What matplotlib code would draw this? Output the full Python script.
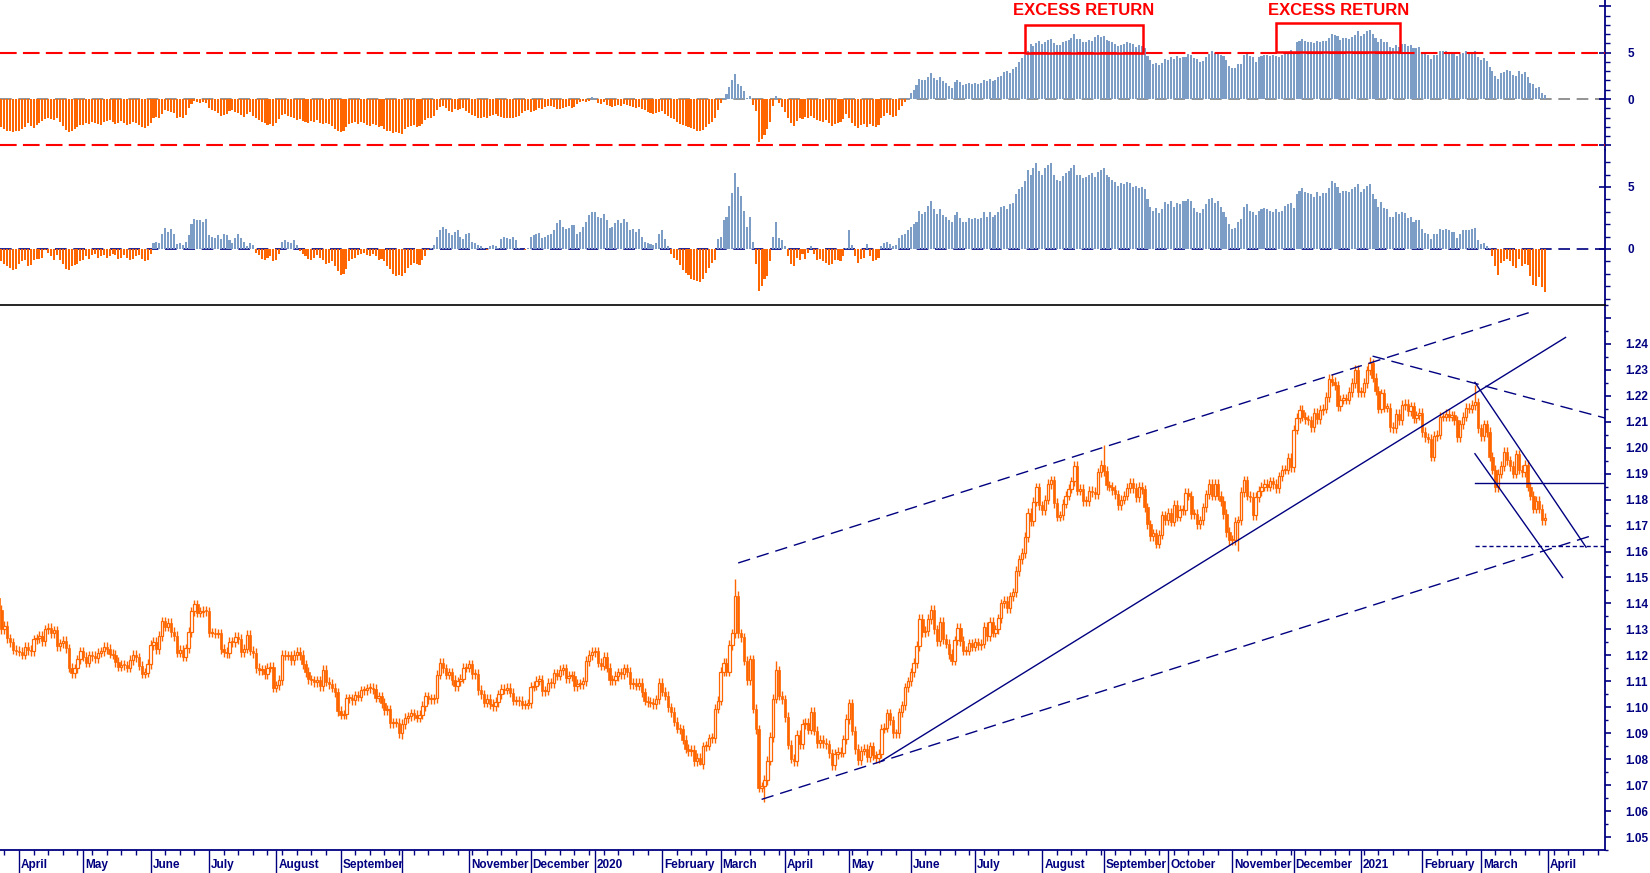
import matplotlib
matplotlib.use("Agg")
import matplotlib.pyplot as plt
import numpy as np
import pandas as pd
from matplotlib.patches import Rectangle

plt.rcParams["font.family"] = ["Liberation Sans", "DejaVu Sans"]
plt.rcParams["font.weight"] = "bold"

first_day = "2019-03-21"
last_day = "2021-03-31"
axis_end = "2021-04-30"

# EUR/USD daily closes, one inner list per month
open_first = 1.1420
close_2019 = [
    [1.1375, 1.1302, 1.1315, 1.1265, 1.1250, 1.1222, 1.1218],
    [1.1214, 1.1203, 1.1232, 1.1221, 1.1216, 1.1262, 1.1265, 1.1276, 1.1255, 1.1300, 1.1305,
     1.1285, 1.1296, 1.1235, 1.1246, 1.1257, 1.1227, 1.1152, 1.1131, 1.1150, 1.1185, 1.1215],
    [1.1195, 1.1172, 1.1200, 1.1198, 1.1190, 1.1210, 1.1216, 1.1233, 1.1225, 1.1207, 1.1203, 1.1174,
     1.1157, 1.1163, 1.1162, 1.1153, 1.1182, 1.1203, 1.1193, 1.1160, 1.1130, 1.1133, 1.1167],
    [1.1240, 1.1253, 1.1224, 1.1275, 1.1331, 1.1310, 1.1325, 1.1290, 1.1275, 1.1210,
     1.1220, 1.1195, 1.1227, 1.1290, 1.1370, 1.1397, 1.1365, 1.1367, 1.1372, 1.1370],
    [1.1287, 1.1287, 1.1283, 1.1285, 1.1225, 1.1213, 1.1208, 1.1253, 1.1252, 1.1271, 1.1263, 1.1213,
     1.1226, 1.1280, 1.1218, 1.1209, 1.1151, 1.1142, 1.1146, 1.1128, 1.1153, 1.1155, 1.1075],
    [1.1085, 1.1105, 1.1203, 1.1199, 1.1200, 1.1181, 1.1201, 1.1214, 1.1202, 1.1165, 1.1136,
     1.1108, 1.1104, 1.1097, 1.1104, 1.1080, 1.1143, 1.1099, 1.1090, 1.1076, 1.1058, 1.0985],
    [1.0971, 1.0973, 1.1035, 1.1034, 1.1027, 1.1046, 1.1041, 1.1065, 1.1065, 1.1073, 1.1075,
     1.1071, 1.1037, 1.1042, 1.1016, 1.0990, 1.0992, 1.0940, 1.0941, 1.0941, 1.0900],
    [1.0935, 1.0958, 1.0965, 1.0977, 1.0970, 1.0960, 1.0972, 1.1005, 1.1042, 1.1030, 1.1032, 1.1035,
     1.1125, 1.1172, 1.1150, 1.1126, 1.1135, 1.1105, 1.1080, 1.1100, 1.1110, 1.1152, 1.1152],
    [1.1165, 1.1128, 1.1130, 1.1067, 1.1050, 1.1018, 1.1032, 1.1012, 1.1005, 1.1020, 1.1050,
     1.1072, 1.1068, 1.1075, 1.1056, 1.1025, 1.1027, 1.1024, 1.1010, 1.1010, 1.1015],
    [1.1079, 1.1083, 1.1103, 1.1106, 1.1061, 1.1064, 1.1094, 1.1093, 1.1131, 1.1122, 1.1144,
     1.1150, 1.1113, 1.1120, 1.1120, 1.1080, 1.1090, 1.1090, 1.1100, 1.1178, 1.1202, 1.1213],
]
close_2020 = [
    [1.1215, 1.1172, 1.1160, 1.1195, 1.1152, 1.1105, 1.1105, 1.1121, 1.1135, 1.1127, 1.1150, 1.1136,
     1.1090, 1.1095, 1.1083, 1.1093, 1.1057, 1.1026, 1.1020, 1.1018, 1.1011, 1.1030, 1.1093],
    [1.1060, 1.1045, 1.1000, 1.0982, 1.0944, 1.0918, 1.0915, 1.0875, 1.0840, 1.0831,
     1.0835, 1.0792, 1.0805, 1.0782, 1.0849, 1.0852, 1.0880, 1.0882, 1.0995, 1.1025],
    [1.1137, 1.1172, 1.1137, 1.1240, 1.1285, 1.1430, 1.1285, 1.1270, 1.1180, 1.1105, 1.1185,
     1.0995, 1.0915, 1.0690, 1.0695, 1.0720, 1.0794, 1.0885, 1.1033, 1.1142, 1.1045, 1.1030],
    [1.0963, 1.0856, 1.0802, 1.0793, 1.0893, 1.0858, 1.0935, 1.0940, 1.0914, 1.0983, 1.0910,
     1.0862, 1.0875, 1.0862, 1.0857, 1.0822, 1.0777, 1.0820, 1.0827, 1.0825, 1.0876, 1.0955],
    [1.1015, 1.0910, 1.0839, 1.0795, 1.0833, 1.0841, 1.0807, 1.0850, 1.0815, 1.0805, 1.0821,
     1.0917, 1.0922, 1.0977, 1.0950, 1.0900, 1.0899, 1.0980, 1.1008, 1.1077, 1.1100],
    [1.1135, 1.1170, 1.1236, 1.1340, 1.1290, 1.1294, 1.1340, 1.1375, 1.1300, 1.1255, 1.1330,
     1.1263, 1.1245, 1.1205, 1.1180, 1.1258, 1.1307, 1.1255, 1.1218, 1.1218, 1.1246, 1.1233],
    [1.1250, 1.1238, 1.1245, 1.1310, 1.1275, 1.1330, 1.1287, 1.1300, 1.1343, 1.1400, 1.1410, 1.1383,
     1.1428, 1.1443, 1.1525, 1.1570, 1.1595, 1.1656, 1.1750, 1.1717, 1.1792, 1.1847, 1.1778],
    [1.1760, 1.1800, 1.1860, 1.1875, 1.1787, 1.1735, 1.1740, 1.1785, 1.1815, 1.1842, 1.1870,
     1.1930, 1.1835, 1.1842, 1.1795, 1.1795, 1.1835, 1.1830, 1.1820, 1.1905, 1.1935],
    [1.1910, 1.1855, 1.1850, 1.1837, 1.1820, 1.1780, 1.1800, 1.1815, 1.1845, 1.1865, 1.1845,
     1.1810, 1.1850, 1.1840, 1.1770, 1.1705, 1.1660, 1.1670, 1.1630, 1.1665, 1.1740, 1.1722],
    [1.1750, 1.1715, 1.1780, 1.1735, 1.1760, 1.1760, 1.1825, 1.1815, 1.1745, 1.1745, 1.1705,
     1.1720, 1.1770, 1.1820, 1.1860, 1.1815, 1.1860, 1.1815, 1.1795, 1.1745, 1.1675, 1.1645],
    [1.1645, 1.1715, 1.1720, 1.1830, 1.1875, 1.1815, 1.1810, 1.1740, 1.1810, 1.1833, 1.1850,
     1.1860, 1.1850, 1.1870, 1.1860, 1.1845, 1.1890, 1.1915, 1.1915, 1.1960, 1.1925],
    [1.2070, 1.2115, 1.2145, 1.2120, 1.2110, 1.2105, 1.2080, 1.2135, 1.2110, 1.2145, 1.2150, 1.2195,
     1.2265, 1.2255, 1.2240, 1.2160, 1.2185, 1.2190, 1.2185, 1.2215, 1.2250, 1.2300, 1.2215],
]
close_2021 = [
    [1.2215, 1.2250, 1.2298, 1.2325, 1.2270, 1.2220, 1.2150, 1.2210, 1.2155, 1.2155, 1.2080,
     1.2075, 1.2130, 1.2105, 1.2165, 1.2170, 1.2140, 1.2160, 1.2115, 1.2125, 1.2135],
    [1.2060, 1.2040, 1.2035, 1.1965, 1.2045, 1.2050, 1.2120, 1.2120, 1.2130, 1.2120,
     1.2125, 1.2105, 1.2040, 1.2090, 1.2120, 1.2155, 1.2150, 1.2165, 1.2175, 1.2075],
    [1.2045, 1.2090, 1.2060, 1.1965, 1.1915, 1.1847, 1.1900, 1.1930, 1.1985, 1.1952, 1.1930, 1.1900,
     1.1975, 1.1915, 1.1905, 1.1935, 1.1850, 1.1815, 1.1765, 1.1795, 1.1765, 1.1720, 1.1730],
]

# days whose wick reaches further than the usual range
wick_days = ["2019-03-21", "2019-06-25", "2019-10-01", "2020-02-20", "2020-03-09", "2020-03-23",
             "2020-03-27", "2020-09-01", "2020-11-04", "2021-01-06", "2021-02-25", "2021-03-31"]
wick_highs = [1.1448, 1.1412, np.nan, np.nan, 1.1496, np.nan, 1.1180, 1.2011, np.nan, 1.2349,
              1.2243, np.nan]
wick_lows = [np.nan, np.nan, 1.0879, 1.0778, np.nan, 1.0636, np.nan, np.nan, 1.1603, np.nan,
             np.nan, 1.1704]

# upper histogram: long-term excess return (%)
excess_long_2019 = [
    [-2.8, -3.0, -3.2, -3.4, -3.5, -3.6, -3.5],
    [-3.4, -3.2, -3.0, -2.6, -2.9, -3.1, -2.8, -2.6, -2.4, -2.2, -2.1, -2.2, -2.3, -2.1, -2.5, -2.9,
     -3.3, -3.6, -3.5, -3.2, -3.0, -2.8],
    [-2.8, -2.6, -2.7, -2.5, -2.6, -2.7, -2.8, -2.5, -2.4, -2.3, -2.5, -2.7, -2.6, -2.4, -2.6, -2.8,
     -2.7, -2.5, -2.6, -2.8, -3.0, -3.1, -2.9],
    [-2.6, -2.0, -1.9, -2.1, -1.6, -1.2, -1.3, -1.4, -1.5, -2.0, -1.9, -2.0, -1.7, -1.0, -0.5, -0.2,
     -0.3, -0.4, -0.3, -0.4],
    [-1.0, -1.2, -1.3, -1.5, -1.8, -1.7, -1.6, -1.3, -1.2, -1.4, -1.5, -1.7, -1.9, -1.6, -1.4, -1.8,
     -2.0, -2.3, -2.5, -2.6, -2.8, -2.7, -2.9],
    [-2.6, -2.2, -1.7, -1.6, -1.8, -1.9, -2.1, -2.3, -2.2, -2.4, -2.5, -2.6, -2.4, -2.5, -2.3, -2.6,
     -2.7, -2.6, -2.7, -2.9, -3.2, -3.5],
    [-3.6, -3.4, -3.0, -2.7, -2.6, -2.5, -2.7, -2.5, -2.6, -2.8, -2.9, -2.7, -2.8, -3.0, -2.9, -3.2,
     -3.4, -3.5, -3.7, -3.6, -3.7],
    [-3.8, -3.2, -3.0, -2.9, -2.8, -3.0, -2.9, -2.7, -2.3, -2.1, -2.0, -1.8, -1.2, -0.9, -0.8, -1.0,
     -1.3, -1.4, -1.1, -1.2, -1.1, -1.0, -1.3],
    [-1.5, -1.7, -1.8, -2.0, -2.1, -1.9, -2.0, -1.8, -1.7, -1.6, -1.8, -1.9, -2.0, -2.1, -2.0, -2.0,
     -1.9, -1.8, -1.5, -1.3, -1.2],
    [-1.4, -1.3, -1.2, -1.0, -1.1, -0.9, -0.8, -0.7, -0.9, -1.1, -1.1, -1.0, -0.9, -0.8, -1.0, -0.9,
     -0.5, -0.3, -0.2, -0.3, -0.2, 0.2],
]
excess_long_2020 = [
    [0.1, -0.4, -0.5, -0.3, -0.6, -0.8, -0.9, -0.7, -0.6, -0.7, -0.5, -0.6, -0.8, -0.9, -1.0, -0.9,
     -1.1, -1.2, -1.4, -1.5, -1.6, -1.5, -1.4],
    [-1.3, -1.6, -1.8, -2.0, -2.2, -2.5, -2.7, -2.8, -2.9, -3.0, -3.1, -3.2, -3.4, -3.5, -3.3, -3.0,
     -2.7, -2.5, -2.0, -1.2],
    [-0.4, 0.1, 0.5, 1.3, 2.0, 2.7, 1.6, 1.4, 0.9, 0.1, 0.3, -0.6, -1.3, -4.6, -4.3, -3.9, -3.2,
     -2.5, -0.8, 0.3, -0.4, -0.9],
    [-1.4, -2.1, -2.6, -2.9, -2.4, -2.0, -2.2, -1.9, -2.1, -1.8, -2.1, -2.3, -2.4, -2.5, -2.3, -2.6,
     -2.9, -2.7, -2.6, -2.5, -2.2, -1.6],
    [-2.0, -2.6, -2.9, -3.1, -2.8, -2.7, -3.0, -2.7, -2.9, -3.0, -2.8, -2.0, -1.8, -1.5, -1.7, -1.9,
     -1.8, -1.2, -0.8, -0.3, 0.1],
    [0.6, 1.0, 1.5, 2.2, 2.0, 2.1, 2.4, 2.8, 2.3, 2.0, 2.4, 1.9, 1.7, 1.4, 1.2, 1.8, 2.0, 1.8, 1.5,
     1.6, 1.7, 1.6],
    [1.7, 1.6, 1.7, 2.1, 1.9, 2.2, 1.9, 2.0, 2.4, 2.5, 2.9, 3.0, 2.8, 3.2, 3.4, 4.0, 4.4, 4.7, 5.2,
     5.9, 5.7, 6.0, 6.3],
    [5.9, 6.1, 6.4, 6.5, 6.0, 5.8, 5.8, 6.1, 6.3, 6.4, 6.6, 7.0, 6.5, 6.5, 6.2, 6.2, 6.4, 6.3, 6.7,
     6.9, 6.7],
    [6.8, 6.4, 6.3, 6.2, 5.9, 5.7, 5.8, 5.9, 6.1, 6.0, 5.9, 5.6, 5.8, 5.7, 5.5, 4.6, 4.2, 3.8, 3.9,
     3.7, 3.9, 4.3],
    [4.2, 4.5, 4.3, 4.6, 4.4, 4.5, 4.5, 4.9, 4.8, 4.4, 4.3, 4.0, 4.1, 4.5, 4.9, 5.2, 5.0, 5.1, 4.8,
     4.6, 4.2, 3.6],
    [3.3, 3.3, 3.8, 3.8, 4.7, 5.0, 4.6, 4.5, 4.0, 4.5, 4.6, 4.7, 4.7, 4.6, 4.7, 4.6, 4.5, 4.8, 5.0,
     5.0, 5.3],
    [5.1, 6.1, 6.3, 6.5, 6.3, 6.2, 6.2, 6.0, 6.3, 6.1, 6.3, 6.3, 6.6, 7.0, 6.9, 6.8, 6.4, 6.6, 6.6,
     6.5, 6.7, 6.9, 7.3],
]
excess_long_2021 = [
    [6.8, 7.0, 7.3, 7.4, 7.0, 6.6, 6.2, 6.5, 6.1, 6.1, 5.6, 5.5, 5.8, 5.6, 5.9, 5.9, 5.7, 5.8, 5.5,
     5.5, 5.6],
    [5.1, 4.9, 4.8, 4.3, 4.8, 4.8, 5.2, 5.2, 5.2, 5.1, 5.1, 5.0, 4.6, 4.9, 5.0, 5.2, 5.1, 5.1, 5.2,
     4.5],
    [4.2, 4.4, 4.1, 3.5, 3.0, 2.5, 2.2, 2.8, 2.9, 3.1, 3.0, 2.6, 2.5, 3.0, 2.7, 2.9, 2.4, 1.7, 1.6,
     1.2, 1.3, 0.6, 0.4],
]

# lower histogram: short-term excess return (%)
excess_short_2019 = [
    [-0.8, -1.0, -1.2, -1.4, -1.5, -1.7, -1.6],
    [-1.2, -1.0, -0.9, -1.4, -1.3, -0.9, -0.8, -0.8, -0.7, -0.1, -0.3, -0.6, -0.9, -0.5, -0.9, -1.2,
     -1.6, -1.7, -1.4, -1.3, -1.2, -1.0],
    [-0.9, -0.6, -0.8, -0.5, -0.4, -0.7, -0.6, -0.5, -0.7, -0.6, -0.4, -0.5, -0.8, -0.7, -0.5, -0.7,
     -0.9, -0.8, -0.6, -0.5, -0.8, -1.0, -0.9],
    [-0.4, 0.5, 0.6, 0.5, 1.2, 1.7, 1.4, 1.6, 1.2, 0.4, 0.5, 0.3, 0.6, 1.1, 2.0, 2.4, 2.3, 2.3, 2.2,
     2.4],
    [1.1, 1.0, 0.9, 1.1, 0.8, 1.2, 1.1, 0.7, 0.5, 0.9, 1.2, 0.9, 0.6, 0.2, 0.5, 0.3, -0.3, -0.5,
     -0.8, -0.9, -0.7, -0.6, -1.0],
    [-0.9, -0.4, 0.6, 0.7, 0.6, 0.5, 0.7, 0.3, -0.2, -0.4, -0.6, -0.8, -0.9, -0.7, -0.5, -0.7, -0.9,
     -1.2, -1.1, -1.0, -1.4, -1.8],
    [-2.1, -2.0, -1.6, -1.0, -0.8, -0.7, -0.5, -0.4, -0.3, -0.5, -0.6, -0.4, -0.6, -0.9, -0.8, -1.0,
     -1.4, -1.6, -2.0, -2.2, -2.1],
    [-2.2, -1.9, -1.5, -1.3, -1.1, -1.2, -1.3, -0.9, -0.6, -0.1, 0.1, 0.3, 1.0, 1.5, 1.8, 1.6, 1.3,
     1.1, 1.4, 1.5, 1.0, 0.8, 1.2],
    [1.3, 0.6, 0.5, 0.3, 0.2, 0.1, -0.1, 0.2, 0.3, 0.2, 0.1, 0.8, 1.0, 0.9, 0.8, 1.0, 0.7, 0.1, 0.0,
     -0.1, 0.1],
    [1.0, 1.1, 1.2, 1.3, 0.9, 1.0, 1.1, 1.2, 1.5, 2.1, 2.3, 1.8, 1.6, 1.7, 1.9, 1.9, 1.2, 1.4, 1.8,
     2.2, 2.7, 3.0],
]
excess_short_2020 = [
    [3.0, 2.6, 2.5, 2.8, 2.3, 1.7, 1.8, 2.1, 2.3, 2.1, 2.4, 2.2, 1.5, 1.6, 1.4, 1.6, 1.0, 0.6, 0.5,
     0.4, 0.3, 0.5, 1.2],
    [1.5, 0.8, 0.2, -0.4, -0.7, -0.9, -1.3, -1.7, -1.9, -2.1, -2.4, -2.5, -2.6, -2.7, -2.4, -1.9,
     -1.5, -1.1, -0.9, 0.8],
    [1.0, 2.3, 2.6, 3.5, 4.5, 6.1, 5.0, 4.3, 3.1, 1.8, 2.6, 0.6, -1.2, -3.4, -3.0, -2.4, -2.2, -1.0,
     1.0, 2.2, 0.9, 0.7],
    [0.2, -0.6, -1.2, -1.4, -0.7, -0.9, -0.4, -0.8, -0.3, 0.2, -0.4, -0.9, -0.8, -1.0, -1.1, -1.3,
     -1.2, -0.9, -0.9, -1.0, -0.6, 0.1],
    [1.5, 0.3, -0.6, -1.1, -0.8, -0.7, 0.4, -0.6, -1.0, -0.9, -0.7, 0.2, 0.5, 0.6, 0.4, 0.2, 0.3,
     0.9, 1.1, 1.2, 1.5],
    [1.8, 2.0, 2.2, 3.1, 2.8, 3.0, 3.5, 3.9, 3.2, 2.8, 3.2, 2.7, 2.6, 2.3, 2.2, 2.7, 3.0, 2.5, 2.2,
     2.2, 2.5, 2.4],
    [2.5, 2.4, 2.5, 3.0, 2.6, 3.0, 2.6, 2.7, 3.0, 3.4, 3.5, 3.2, 3.6, 3.7, 4.4, 4.8, 5.0, 5.5, 6.4,
     6.0, 6.5, 6.9, 6.3],
    [6.0, 6.5, 6.8, 6.9, 6.0, 5.6, 5.5, 5.9, 6.1, 6.3, 6.5, 6.8, 6.0, 6.0, 5.7, 5.8, 6.0, 6.1, 5.8,
     6.2, 6.4],
    [6.5, 6.0, 5.8, 5.6, 5.4, 5.1, 5.3, 5.2, 5.4, 5.3, 5.0, 5.1, 4.9, 5.0, 4.8, 4.0, 3.4, 3.1, 3.3,
     2.9, 3.2, 3.8],
    [3.6, 3.9, 3.4, 3.7, 3.6, 3.9, 3.9, 4.0, 3.9, 3.3, 3.0, 2.9, 3.2, 3.6, 4.0, 4.1, 3.7, 3.9, 3.4,
     3.0, 2.6, 2.0],
    [1.6, 1.7, 2.2, 2.4, 3.4, 3.6, 3.1, 3.0, 2.7, 3.1, 3.2, 3.3, 3.2, 3.1, 3.0, 3.2, 3.0, 3.1, 3.5,
     3.6, 3.7],
    [3.3, 4.4, 4.7, 4.9, 4.6, 4.5, 4.4, 4.2, 4.6, 4.3, 4.5, 4.5, 4.9, 5.5, 5.3, 5.0, 4.5, 4.7, 4.7,
     4.6, 4.8, 5.0, 5.2],
]
excess_short_2021 = [
    [4.6, 4.8, 5.1, 5.2, 4.4, 4.0, 3.4, 3.8, 3.3, 3.2, 2.6, 2.6, 3.0, 2.8, 3.0, 2.9, 2.5, 2.6, 2.2,
     2.3, 2.3],
    [1.6, 1.3, 1.2, 0.8, 1.2, 1.2, 1.6, 1.5, 1.6, 1.5, 1.4, 1.4, 0.9, 1.2, 1.5, 1.5, 1.5, 1.6, 1.7,
     0.7],
    [0.4, 0.5, 0.2, 0.1, -0.6, -1.4, -2.1, -1.1, -1.0, -0.8, -1.0, -1.4, -1.5, -0.8, -1.4, -1.2, -1.3,
     -2.2, -2.9, -3.0, -2.3, -3.1, -3.5],
]

# trend lines drawn on the price panel: (start day, price, end day, price)
solid_lines = [
    ("2020-05-18", 1.0793, "2021-04-09", 1.2425),
    ("2021-02-25", 1.2252, "2021-04-20", 1.1617),
    ("2021-02-25", 1.1977, "2021-04-08", 1.1500),
    ("2021-02-25", 1.1865, "2021-04-30", 1.1865),
]
dashed_lines = [
    ("2020-03-10", 1.1556, "2021-03-25", 1.2526),
    ("2020-03-20", 1.0645, "2021-04-23", 1.1665),
    ("2021-01-07", 1.2353, "2021-04-30", 1.2110),
]
dotted_lines = [("2021-02-25", 1.1620, "2021-04-30", 1.1620)]

# "EXCESS RETURN" boxes on the upper histogram: (first day, last day, low, high)
boxes = [("2020-07-24", "2020-09-18", 5.0, 8.0), ("2020-11-23", "2021-01-20", 5.1, 8.2)]
box_label = "EXCESS RETURN"
unlabelled_months = ["2019-10"]

NAVY = "#000080"
ORANGE = "#ff6600"
BLUE = "#7b9dc6"


def flat(*years):
    return [v for y in years for m in y for v in m]


close = np.array(flat(close_2019, close_2020, close_2021))
xr_long = np.array(flat(excess_long_2019, excess_long_2020, excess_long_2021))
xr_short = np.array(flat(excess_short_2019, excess_short_2020, excess_short_2021))

days = pd.bdate_range(first_day, axis_end)
data_days = pd.bdate_range(first_day, last_day)
per_month = data_days.to_series().groupby([data_days.year, data_days.month]).size().tolist()
for name, yrs in (("close", close_2019 + close_2020 + close_2021),
                  ("long", excess_long_2019 + excess_long_2020 + excess_long_2021),
                  ("short", excess_short_2019 + excess_short_2020 + excess_short_2021)):
    for k, (m, want) in enumerate(zip(yrs, per_month)):
        if len(m) != want:
            print("month length mismatch", name, k, len(m), want)

n = min(len(close), len(xr_long), len(xr_short), len(data_days))
close, xr_long, xr_short = close[:n], xr_long[:n], xr_short[:n]
x = np.arange(n)


def xpos(day):
    return days.get_loc(pd.Timestamp(day))


# pixel layout of the reference: Apr 2019 tick at 19 px, Apr 2021 tick at 1548 px
ppd = (1548 - 19) / (xpos("2021-04-01") - xpos("2019-04-01"))
x_left = xpos("2019-04-01") - 19 / ppd
x_right = x_left + 1605 / ppd

fig = plt.figure(figsize=(16.5, 8.73), dpi=100)
W = 1605 / 1650
ax1 = fig.add_axes([0, 1 - 150 / 873, W, 150 / 873])
ax2 = fig.add_axes([0, 1 - 305 / 873, W, 155 / 873])
ax3 = fig.add_axes([0, 1 - 850 / 873, W, 545 / 873])

for ax in (ax1, ax2, ax3):
    ax.set_xlim(x_left, x_right)
    for s in ax.spines.values():
        s.set_visible(False)
    ax.spines["right"].set_visible(True)
    ax.spines["right"].set_color(NAVY)
    ax.spines["right"].set_linewidth(1.3)
    ax.yaxis.tick_right()
    ax.tick_params(axis="y", which="both", colors=NAVY, labelsize=8.5)

# histograms
for ax, vals, zc in ((ax1, xr_long, "#808080"), (ax2, xr_short, NAVY)):
    ax.axhline(0, color=zc, lw=1.2, ls=(0, (7, 4)), zorder=1)
    ax.bar(x, vals, width=0.7, color=np.where(vals >= 0, BLUE, ORANGE), linewidth=0, zorder=2)
    ax.tick_params(axis="x", which="both", bottom=False, labelbottom=False)
    ax.tick_params(axis="y", which="major", direction="inout", length=8, width=1.2, pad=12)
    ax.tick_params(axis="y", which="minor", direction="out", length=3.5, width=1.0)

ax1.set_ylim(-5.50, 10.68)
ax1.set_yticks([-5, 0, 5, 10])
ax1.set_yticklabels(["", "0", "5", ""])
ax1.set_yticks(np.arange(-5, 11), minor=True)
for lvl in (5, -5):
    ax1.axhline(lvl, color="red", lw=1.5, ls=(0, (8, 3)), zorder=3)

for d0, d1, lo_, hi_ in boxes:
    a, b = xpos(d0), xpos(d1) + 0.5
    ax1.add_patch(Rectangle((a, lo_), b - a, hi_ - lo_, fill=False, edgecolor="red", lw=1.8,
                            zorder=4))
    ax1.text((a + b) / 2, 9.6, box_label, color="red", fontsize=12, fontweight="bold",
             ha="center", va="center")

ax2.set_ylim(-4.52, 7.98)
ax2.set_yticks([0, 5])
ax2.set_yticklabels(["0", "5"])
ax2.set_yticks(np.arange(-4, 8), minor=True)

# candlesticks
opn = np.r_[open_first, close[:-1]]
up = close >= opn
lo = np.minimum(opn, close)
hi = np.maximum(opn, close)
body = np.maximum(hi - lo, 0.0004)
wick = 0.0018
w_lo = lo - wick
w_hi = hi + wick
for d, h, l in zip(wick_days, wick_highs, wick_lows):
    i = xpos(d)
    if i < n:
        if not np.isnan(h):
            w_hi[i] = h
        if not np.isnan(l):
            w_lo[i] = l
ax3.vlines(x, w_lo, w_hi, color=ORANGE, lw=1.0, zorder=2)
ax3.bar(x[~up], body[~up], bottom=lo[~up], width=0.8, color=ORANGE, edgecolor=ORANGE,
        lw=0.5, zorder=3)
ax3.bar(x[up], body[up], bottom=lo[up], width=0.8, facecolor="white", edgecolor=ORANGE,
        lw=0.9, zorder=3)

for group, ls in ((solid_lines, "-"), (dashed_lines, (0, (9, 5))), (dotted_lines, (0, (3, 2)))):
    for d0, p0, d1, p1 in group:
        ax3.plot([xpos(d0), xpos(d1)], [p0, p1], color=NAVY, lw=1.0, ls=ls, zorder=4)

ax3.set_ylim(1.04774, 1.25263)
yt = np.round(np.arange(1.05, 1.2501, 0.01), 2)
ax3.set_yticks(yt)
ax3.set_yticklabels([f"{v:.2f}" if v < 1.245 else "" for v in yt])
ax3.set_yticks(np.arange(1.045, 1.2551, 0.005), minor=True)
ax3.tick_params(axis="y", which="major", direction="out", length=4.5, width=1.2, pad=10)
ax3.tick_params(axis="y", which="minor", direction="out", length=2.5, width=1.0)

ax3.spines["top"].set_visible(True)
ax3.spines["top"].set_color("black")
ax3.spines["top"].set_linewidth(1.2)
ax3.spines["bottom"].set_visible(True)
ax3.spines["bottom"].set_color(NAVY)
ax3.spines["bottom"].set_linewidth(1.3)

month_idx = [i for i in range(1, len(days)) if days[i].month != days[i - 1].month]
monday_idx = [i for i, d in enumerate(days) if d.weekday() == 0 and i not in month_idx]
ax3.set_xticks(month_idx)
ax3.set_xticks(monday_idx, minor=True)
ax3.tick_params(axis="x", which="major", direction="out", length=16.5, width=1.0,
                color=NAVY, labelbottom=False)
ax3.tick_params(axis="x", which="minor", direction="out", length=3.6, width=1.0, color=NAVY)

for i in month_idx:
    d = days[i]
    if d.strftime("%Y-%m") in unlabelled_months:
        continue
    lab = str(d.year) if d.month == 1 else d.strftime("%B")
    ax3.annotate(lab, xy=(i, 0), xycoords=("data", "axes fraction"), xytext=(1.5, -6.5),
                 textcoords="offset points", ha="left", va="top", fontsize=8.5,
                 color=NAVY, fontweight="bold", annotation_clip=False)

fig.savefig("out.png", dpi=100, facecolor="white")
